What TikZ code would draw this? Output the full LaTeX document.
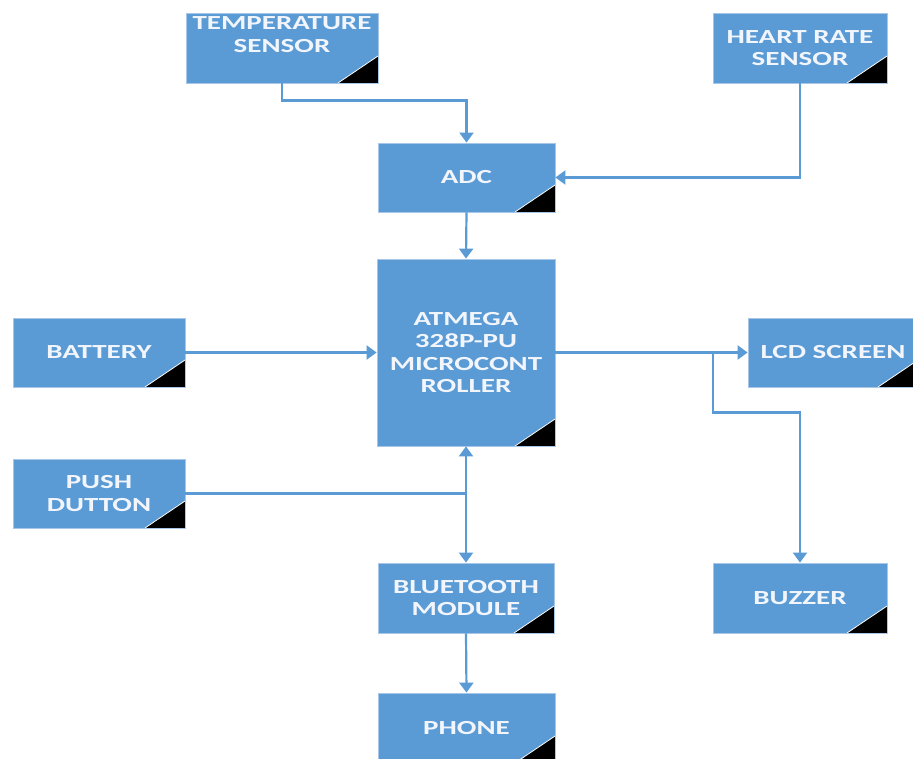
\documentclass[tikz,border=0pt]{standalone}
\usepackage{fontspec}
\newfontfamily\boxfont[FakeStretch=1.45]{Carlito}
\usetikzlibrary{arrows.meta}
\definecolor{boxblue}{HTML}{5B9BD5}
\definecolor{boxedge}{HTML}{A8C6E8}
\definecolor{txtwhite}{HTML}{F2F6FC}
\begin{document}
\begin{tikzpicture}[x=1pt,y=-1pt,
  blk/.style={rectangle, fill=boxblue, draw=boxedge, line width=0.8pt,
    minimum width=176pt, minimum height=70pt, inner sep=0pt, align=center,
    text=txtwhite, font=\boxfont\bfseries\fontsize{20}{22.5}\selectfont,
    path picture={
      \fill[black] ([xshift=-40pt]path picture bounding box.south east)
        -- (path picture bounding box.south east)
        -- ([yshift=27pt]path picture bounding box.south east) -- cycle;
      \draw[white, line width=0.8pt] ([xshift=-40pt]path picture bounding box.south east)
        -- ([yshift=27pt]path picture bounding box.south east);}},
  conn/.style={draw=boxblue, line width=2.2pt},
  arr/.style={conn, -{Triangle[width=14pt,length=10pt]}},
  darr/.style={conn, {Triangle[width=14pt,length=10pt]}-{Triangle[width=14pt,length=10pt]}}]
\useasboundingbox (0,0) rectangle (913,758);
\clip (0,0) rectangle (913,758);

\node[blk, minimum width=192pt] (temp) at (282,48) {TEMPERATURE\\SENSOR\\[4pt]\mbox{}};
\node[blk, minimum width=174pt] (heart) at (800,48) {HEART RATE\\SENSOR};
\node[blk, minimum width=177pt, minimum height=69pt] (adc) at (466.5,177.5) {ADC};
\node[blk, minimum width=178pt, minimum height=187pt] (mcu) at (466,352.5) {ATMEGA\\328P-PU\\MICROCONT\\ROLLER};
\node[blk, minimum width=172pt, minimum height=69pt] (bat) at (99,352.5) {BATTERY};
\node[blk, minimum width=172pt, minimum height=69pt] (push) at (99,493.5) {PUSH\\DUTTON};
\node[blk, minimum width=170pt, minimum height=69pt] (lcd) at (833,352.5) {LCD SCREEN};
\node[blk] (bt) at (466,598) {BLUETOOTH\\MODULE};
\node[blk, minimum width=174pt] (buz) at (800,598) {BUZZER};
\node[blk, minimum width=177pt] (phone) at (466.5,728) {PHONE};

\coordinate (br) at (713,352.5);

\draw[arr] (temp.south) -- ++(0,17) -| (adc.north);
\draw[arr] (heart.south) |- (adc.east);
\draw[arr] (adc.south) -- (mcu.north);
\draw[arr] (bat.east) -- (mcu.west);
\draw[arr] (mcu.east) -- (lcd.west);
\draw[arr] (br) -- ++(0,60) -| (buz.north);
\draw[darr] (mcu.south) -- (bt.north);
\draw[conn] (push.east) -- (push.east -| bt.north);
\draw[arr] (bt.south) -- (phone.north);
\end{tikzpicture}
\end{document}
